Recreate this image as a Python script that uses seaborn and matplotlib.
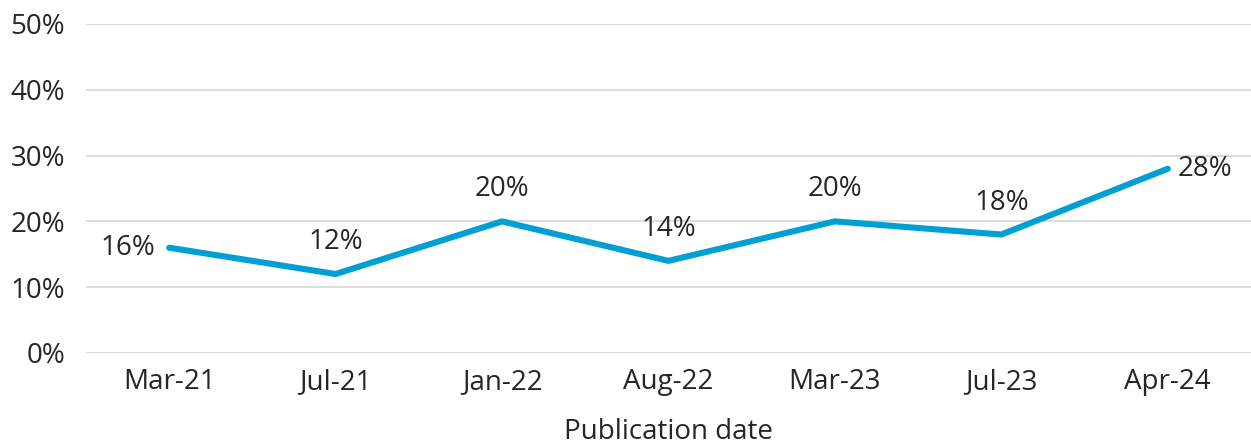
import matplotlib
matplotlib.use("Agg")
import matplotlib.pyplot as plt
import seaborn as sns
import pandas as pd

# Data
dates = ["Mar-21", "Jul-21", "Jan-22", "Aug-22", "Mar-23", "Jul-23", "Apr-24"]
share = [16, 12, 20, 14, 20, 18, 28]
label_pos = ["left", "above", "above", "above", "above", "above", "right"]

df = pd.DataFrame({"date": dates, "share": share})

sns.set_style("white")
plt.rcParams["font.family"] = ["Open Sans", "DejaVu Sans"]
text_color = "#262626"
line_color = "#009FD4"
fs = 20

fig = plt.figure(figsize=(12.51, 4.44), dpi=100)
ax = fig.add_axes([0.0687, 0.205, 0.9313, 0.741])

sns.lineplot(data=df, x="date", y="share", sort=False, color=line_color,
             linewidth=4.4, solid_capstyle="round", ax=ax)

# Data labels
for i, (v, pos) in enumerate(zip(share, label_pos)):
    if pos == "left":
        ax.annotate(f"{v}%", (i, v), xytext=(-10, 0), textcoords="offset points",
                    ha="right", va="center", fontsize=fs, color=text_color)
    elif pos == "right":
        ax.annotate(f"{v}%", (i, v), xytext=(7, 0), textcoords="offset points",
                    ha="left", va="center", fontsize=fs, color=text_color)
    else:
        ax.annotate(f"{v}%", (i, v), xytext=(0, 23), textcoords="offset points",
                    ha="center", va="center", fontsize=fs, color=text_color)

ax.set_xlim(-0.5, len(dates) - 0.5)
ax.set_ylim(0, 50)
ax.set_yticks([0, 10, 20, 30, 40, 50])
ax.set_yticklabels([f"{t}%" for t in [0, 10, 20, 30, 40, 50]])
ax.grid(axis="y", color="#D9D9D9", linewidth=1.3)
ax.set_axisbelow(True)
for s in ax.spines.values():
    s.set_visible(False)
ax.tick_params(axis="both", length=0, labelsize=fs, colors=text_color)
ax.tick_params(axis="y", pad=15)
ax.tick_params(axis="x", pad=11)
ax.set_ylabel("")
ax.set_xlabel("Publication date", fontsize=fs, color=text_color, labelpad=16)

fig.savefig("out.png", dpi=100)
